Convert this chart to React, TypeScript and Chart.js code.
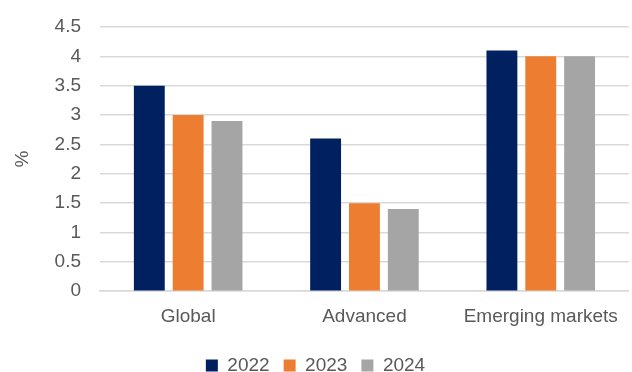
import React, { useEffect, useRef } from "react";
import { Chart, registerables } from "chart.js";

Chart.register(...registerables);

const categories = ["Global", "Advanced", "Emerging markets"];
const series2022 = [3.5, 2.6, 4.1];
const series2023 = [3.0, 1.5, 4.0];
const series2024 = [2.9, 1.4, 4.0];
const seriesLabels = ["2022", "2023", "2024"];
const seriesColors = ["#002060", "#ED7D31", "#A5A5A5"];
const yTitle = "%";

export default function App() {
  const ref = useRef<HTMLCanvasElement | null>(null);
  useEffect(() => {
    document.body.style.margin = "0";
    const ctx = ref.current!;
    const font = { family: "'Liberation Sans', Arial, sans-serif", size: 19 };
    const chart = new Chart(ctx, {
      type: "bar",
      data: {
        labels: categories,
        datasets: [series2022, series2023, series2024].map((d, i) => ({
          label: seriesLabels[i],
          data: d,
          backgroundColor: seriesColors[i],
          borderWidth: 0,
          categoryPercentage: 0.661,
          barPercentage: 0.795,
        })),
      },
      options: {
        animation: false,
        responsive: false,
        maintainAspectRatio: false,
        layout: { padding: { top: 27, right: 1, left: 0, bottom: -13 } },
        plugins: {
          tooltip: { enabled: false },
          legend: {
            position: "bottom",
            labels: {
              color: "#595959",
              font,
              boxWidth: 12,
              boxHeight: 12,
              padding: 14,
            },
          },
        },
        scales: {
          x: {
            grid: { display: false, drawTicks: false },
            border: { display: true, color: "#D9D9D9", width: 1.5 },
            ticks: { color: "#595959", font, padding: 14, maxRotation: 0, autoSkip: false },
          },
          y: {
            min: 0,
            max: 4.5,
            grid: { color: "#D9D9D9", lineWidth: 1.5, drawTicks: false },
            border: { display: false },
            ticks: {
              stepSize: 0.5,
              color: "#595959",
              font,
              padding: 19,
              callback: (v: any) => String(Number(v)),
            },
            title: {
              display: true,
              text: yTitle,
              color: "#595959",
              font,
              padding: { top: 11, bottom: 0 },
            },
            afterFit: (s: any) => {
              s.width = 100;
              s.paddingTop = 0;
              s.paddingBottom = 0;
            },
          },
        },
      },
    } as any);
    return () => chart.destroy();
  }, []);
  return (
    <div style={{ position: "absolute", left: 0, top: 0, width: 632, height: 372 }}>
      <canvas ref={ref} width={632} height={372} style={{ display: "block" }} />
    </div>
  );
}
